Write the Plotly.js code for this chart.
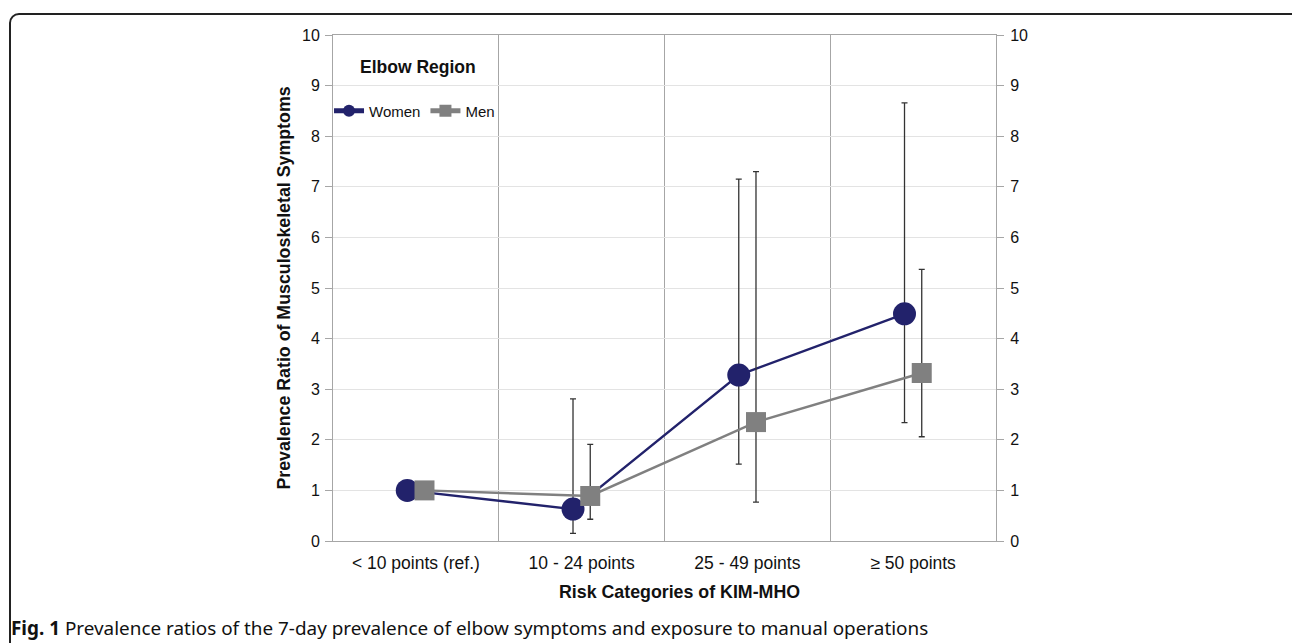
<!DOCTYPE html>
<html>
<head>
<meta charset="utf-8">
<script src="https://cdn.plot.ly/plotly-3.0.1.min.js"></script>
<style>
  html, body { margin: 0; padding: 0; background: #fff; }
  #frame { position: absolute; left: 9px; top: 13px; width: 1300px; height: 660px;
           border: 2px solid #222; border-radius: 10px; box-sizing: border-box; }
  #chart { position: absolute; left: 0; top: 0; width: 1292px; height: 643px; }
</style>
</head>
<body>
<div id="frame"></div>
<div id="chart"></div>
<script>
// ---- data ----
const categories = ["&lt; 10 points (ref.)", "10 - 24 points", "25 - 49 points", "≥ 50 points"];
const womenPR    = [1.00, 0.63, 3.28, 4.49];
const womenUpper = [1.00, 2.81, 7.15, 8.66];
const womenLower = [1.00, 0.15, 1.52, 2.34];
const menPR      = [1.00, 0.89, 2.35, 3.32];
const menUpper   = [1.00, 1.91, 7.30, 5.37];
const menLower   = [1.00, 0.43, 0.77, 2.06];
const yTicks     = [0, 1, 2, 3, 4, 5, 6, 7, 8, 9, 10];

// ---- build ----
const idx = categories.map((_, i) => i);
const off = 0.052;
function errs(pr, up, lo) {
  return {
    plus: pr.map((v, i) => (i === 0 ? null : up[i] - v)),
    minus: pr.map((v, i) => (i === 0 ? null : v - lo[i]))
  };
}
const we = errs(womenPR, womenUpper, womenLower);
const me = errs(menPR, menUpper, menLower);

const women = {
  x: idx.map(i => i - off), y: womenPR, name: "Women", type: "scatter", mode: "lines+markers",
  line: { color: "#22226b", width: 2.4 },
  marker: { symbol: "circle", size: 23, color: "#22226b" },
  error_y: { type: "data", symmetric: false, array: we.plus, arrayminus: we.minus,
             color: "#333333", thickness: 1.3, width: 3 }
};
const men = {
  x: idx.map(i => i + off), y: menPR, name: "Men", type: "scatter", mode: "lines+markers",
  line: { color: "#808080", width: 2.4 },
  marker: { symbol: "square", size: 20, color: "#808080" },
  error_y: { type: "data", symmetric: false, array: me.plus, arrayminus: me.minus,
             color: "#333333", thickness: 1.3, width: 3 }
};

const FF = "Liberation Sans, Arial, sans-serif";
const xTickFont = { family: FF, size: 17.5, color: "#111" };
const yTickFont = { family: FF, size: 16, color: "#111" };
const layout = {
  width: 1292, height: 643,
  margin: { l: 333, r: 296, t: 35, b: 102 },
  paper_bgcolor: "rgba(0,0,0,0)", plot_bgcolor: "#fff",
  showlegend: true,
  legend: { x: -0.006, y: 0.85, xanchor: "left", yanchor: "middle", orientation: "h",
            font: { family: FF, size: 15, color: "#111" },
            itemsizing: "constant", itemwidth: 30, bgcolor: "rgba(0,0,0,0)", tracegroupgap: 0 },
  xaxis: {
    range: [-0.5, 3.5], tickmode: "array", tickvals: idx, ticktext: categories,
    showgrid: false, zeroline: false, showline: true, mirror: true, linecolor: "#a6a6a6", linewidth: 1,
    ticks: "", tickfont: xTickFont, ticklabelstandoff: 6,
    minor: { tickmode: "array", tickvals: [0.5, 1.5, 2.5], showgrid: true, gridcolor: "#a6a6a6", gridwidth: 1, ticks: "" }
  },
  yaxis: {
    range: [0, 10], tickmode: "array", tickvals: yTicks, showgrid: true, gridcolor: "#e3e3e3", gridwidth: 1,
    zeroline: false, showline: true, linecolor: "#a6a6a6", linewidth: 1,
    ticks: "outside", ticklen: 7, tickcolor: "#a6a6a6", tickfont: yTickFont, ticklabelstandoff: 2,
    title: { text: "<b>Prevalence Ratio of Musculoskeletal Symptoms</b>", font: { family: FF, size: 17.8, color: "#111" }, standoff: 6 }
  },
  yaxis2: {
    range: [0, 10], overlaying: "y", side: "right", tickmode: "array", tickvals: yTicks,
    showgrid: false, zeroline: false, showline: true, linecolor: "#a6a6a6", linewidth: 1,
    ticks: "outside", ticklen: 7, tickcolor: "#a6a6a6", tickfont: yTickFont, ticklabelstandoff: 3
  },
  annotations: [
    { text: "<b>Elbow Region</b>", xref: "paper", yref: "paper", x: 0.128, y: 0.937,
      xanchor: "center", yanchor: "middle", showarrow: false,
      font: { family: FF, size: 17.5, color: "#111" } },
    { text: "<b>Risk Categories of KIM-MHO</b>", xref: "paper", yref: "paper", x: 0.523, y: -0.1,
      xanchor: "center", yanchor: "middle", showarrow: false,
      font: { family: FF, size: 17.8, color: "#111" } },
    { text: "<b>Fig. 1</b> Prevalence ratios of the 7-day prevalence of elbow symptoms and exposure to manual operations",
      xref: "paper", yref: "paper", x: -0.488, y: -0.172, xanchor: "left", yanchor: "middle", showarrow: false,
      font: { family: "Noto Sans, Open Sans, sans-serif", size: 18.9, color: "#111" } }
  ]
};

Plotly.newPlot("chart", [women, men, { x: [], y: [], yaxis: "y2", showlegend: false, hoverinfo: "skip" }], layout, { displayModeBar: false, staticPlot: true });
</script>
</body>
</html>
